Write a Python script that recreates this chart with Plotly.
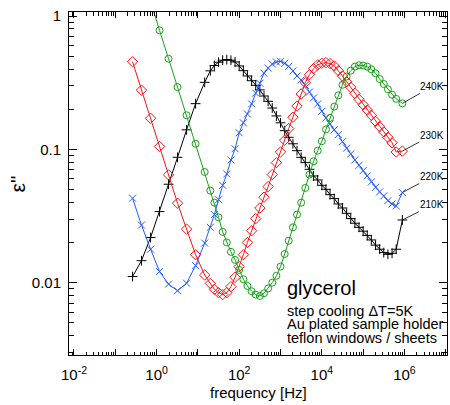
import math
import plotly.graph_objects as go

# Dielectric loss spectra of glycerol, four temperatures (step cooling)
freq = [0.262, 0.431, 0.716, 1.18, 1.95, 3.22, 5.32, 8.79, 14.6,
        20.0, 25.1, 31.6, 39.8, 50.1, 63.1, 79.4,
        100, 126, 158, 200, 251, 316, 398, 501, 631, 794,
        1000, 1260, 1580, 2000, 2510, 3160, 3980, 5010, 6310, 7940,
        1.00e4, 1.26e4, 1.58e4, 2.00e4, 2.51e4, 3.16e4, 3.98e4, 5.01e4, 6.31e4, 7.94e4,
        1.00e5, 1.26e5, 1.58e5, 2.00e5, 2.51e5, 3.16e5, 3.98e5, 5.01e5, 6.31e5, 8.9e5]

eps_210K = [0.0111, 0.0146, 0.0218, 0.0341, 0.0547, 0.0871, 0.140, 0.220, 0.318,
            0.388, 0.425, 0.450, 0.466, 0.471, 0.466, 0.452,
            0.422, 0.389, 0.355, 0.327, 0.302, 0.279, 0.251, 0.229, 0.204, 0.178,
            0.158, 0.138, 0.123, 0.110, 0.0977, 0.0871, 0.0794, 0.0708, 0.0631, 0.0589,
            0.0537, 0.0501, 0.0457, 0.0427, 0.0389, 0.0363, 0.0331, 0.0302, 0.0279, 0.0260,
            0.0243, 0.0226, 0.0209, 0.0191, 0.0178, 0.0168, 0.0163, 0.0166, 0.0178, 0.0295]

eps_220K = [0.0430, 0.0270, 0.0178, 0.0121, 0.00975, 0.00869, 0.0099, 0.0134, 0.0198,
            0.0260, 0.0324, 0.0419, 0.0537, 0.0653, 0.0832, 0.101,
            0.133, 0.158, 0.184, 0.219, 0.264, 0.313, 0.372, 0.407, 0.437, 0.452,
            0.457, 0.442, 0.419, 0.387, 0.355, 0.331, 0.302, 0.269, 0.243, 0.219,
            0.193, 0.172, 0.155, 0.140, 0.129, 0.114, 0.102, 0.0923, 0.0832, 0.0759,
            0.0692, 0.0631, 0.0569, 0.0519, 0.0479, 0.0447, 0.0412, 0.0389, 0.0376, 0.0474]

eps_230K = [0.454, 0.278, 0.171, 0.105, 0.0643, 0.0394, 0.0252, 0.0162, 0.0114,
            0.00986, 0.00891, 0.00841, 0.00813, 0.00841, 0.00933, 0.01096,
            0.01318, 0.0162, 0.0200, 0.0245, 0.0302, 0.0363, 0.0437, 0.0525, 0.0646, 0.0794,
            0.0955, 0.117, 0.143, 0.174, 0.211, 0.260, 0.316, 0.363, 0.403, 0.430,
            0.442, 0.447, 0.440, 0.422, 0.389, 0.355, 0.321, 0.292, 0.263, 0.237,
            0.216, 0.197, 0.180, 0.162, 0.148, 0.135, 0.123, 0.112, 0.0955, 0.0970]

eps_240K = [3.5, 2.1, 1.29, 0.78, 0.478, 0.293, 0.180, 0.110, 0.0676,
            0.0490, 0.0398, 0.0309, 0.0240, 0.0200, 0.0170, 0.0148,
            0.01245, 0.0106, 0.00944, 0.00861, 0.00813, 0.00794, 0.00832, 0.00904, 0.0100, 0.01125,
            0.0132, 0.0164, 0.0206, 0.0260, 0.0324, 0.0398, 0.0513, 0.0646, 0.0813, 0.0977,
            0.115, 0.141, 0.172, 0.209, 0.254, 0.305, 0.351, 0.389, 0.417, 0.427,
            0.425, 0.417, 0.398, 0.372, 0.337, 0.309, 0.282, 0.257, 0.239, 0.221]

temps = ["210K", "220K", "230K", "240K"]
series = [eps_210K, eps_220K, eps_230K, eps_240K]
colors = ["#000000", "#1f5bff", "#ff1010", "#18a018"]
symbols = ["cross-thin", "x-thin", "diamond-open", "circle-open"]
sizes = [7, 7, 8, 7]
# label offsets (pixels) from each curve's last point
label_offsets = [(30, -15), (30, -16), (30, -16), (30, -17)]

x_tick_exps = list(range(-2, 8))
x_tickvals = [10.0 ** e for e in x_tick_exps]
x_ticktext = [f"10<sup>{e}</sup>" if e % 2 == 0 and e <= 6 else " " for e in x_tick_exps]
y_tickvals = [0.01, 0.1, 1]
y_ticktext = ["0.01", "0.1", "1"]

x_minor = [m * 10.0 ** e for e in range(-3, 8) for m in range(2, 10)]
y_minor = [m * 10.0 ** e for e in range(-3, 1) for m in range(2, 10)]

FONT = "Liberation Sans, Arial, Helvetica, sans-serif"

fig = go.Figure()
for name, vals, col, sym, sz in zip(temps, series, colors, symbols, sizes):
    fig.add_trace(go.Scatter(
        x=freq, y=vals, mode="lines+markers", name=name,
        line=dict(color=col, width=1),
        marker=dict(symbol=sym, size=sz, color=col, line=dict(color=col, width=1)),
        showlegend=False,
    ))

annotations = []
for name, vals, (ax, ay) in zip(temps, series, label_offsets):
    # annotation positions on log axes are given in log10 units
    annotations.append(dict(
        x=math.log10(freq[-1]), y=math.log10(vals[-1]), xref="x", yref="y",
        text=name, showarrow=True, arrowhead=0, arrowwidth=0.8, arrowcolor="#000",
        ax=ax, ay=ay, font=dict(family=FONT, size=10, color="#000"),
    ))

# descriptive text block
annotations.append(dict(xref="paper", yref="paper", x=0.571, y=0.195, xanchor="left", yanchor="middle",
                        text="glycerol", showarrow=False, font=dict(family=FONT, size=20, color="#000")))
info_lines = ["step cooling ΔT=5K", "Au plated sample holder", "teflon windows / sheets"]
info_y = [0.128, 0.089, 0.050]
for t, yy in zip(info_lines, info_y):
    annotations.append(dict(xref="paper", yref="paper", x=0.571, y=yy, xanchor="left", yanchor="middle",
                            text=t, showarrow=False, font=dict(family=FONT, size=14.5, color="#000")))

# axis titles
annotations.append(dict(xref="paper", yref="paper", x=0.5, y=-0.11, xanchor="center", yanchor="middle",
                        text="frequency [Hz]", showarrow=False, font=dict(family=FONT, size=15, color="#000")))
annotations.append(dict(xref="paper", yref="paper", x=-0.135, y=0.5, xanchor="center", yanchor="middle",
                        text="ε\"", textangle=-90, showarrow=False, font=dict(family=FONT, size=21, color="#000")))

axis_common = dict(
    showline=True, linecolor="#000", linewidth=1, mirror="ticks",
    showgrid=False, zeroline=False, ticks="inside", tickcolor="#000", tickwidth=1,
    tickfont=dict(family=FONT, size=15, color="#000"),
)

fig.update_layout(
    width=450, height=405,
    margin=dict(l=69, r=3, t=12, b=50),
    paper_bgcolor="white", plot_bgcolor="white",
    annotations=annotations,
    xaxis=dict(type="log", range=[-2.12, 7.03], tickmode="array", tickvals=x_tickvals, ticktext=x_ticktext,
               ticklen=6, ticklabelstandoff=6,
               minor=dict(tickmode="array", tickvals=x_minor, ticks="inside", ticklen=3.5,
                          tickcolor="#000", tickwidth=1, showgrid=False),
               **axis_common),
    yaxis=dict(type="log", range=[-2.543, 0.03], tickmode="array", tickvals=y_tickvals, ticktext=y_ticktext,
               ticklen=8, ticklabelstandoff=4,
               minor=dict(tickmode="array", tickvals=y_minor, ticks="inside", ticklen=5,
                          tickcolor="#000", tickwidth=1, showgrid=False),
               **axis_common),
)

fig.write_html("out.html")
